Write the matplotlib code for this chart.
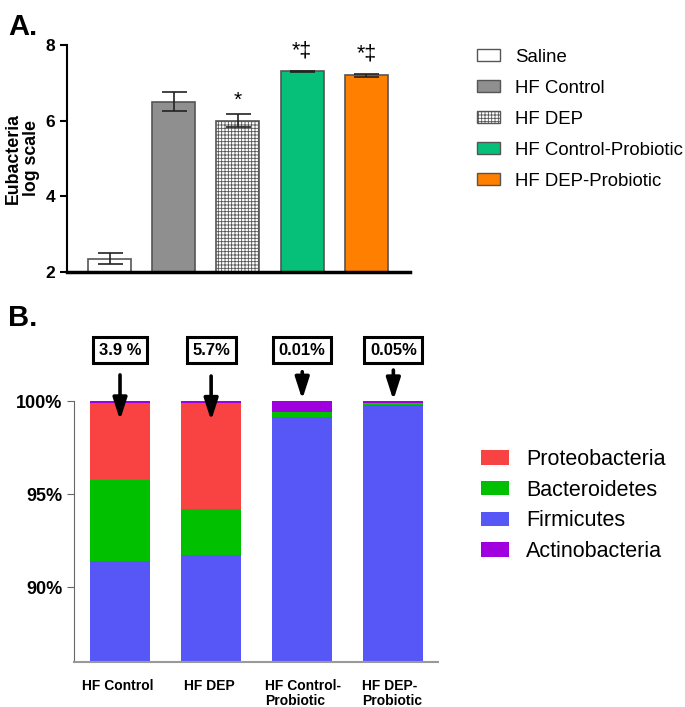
import matplotlib
matplotlib.use("Agg")
import matplotlib.pyplot as plt
from matplotlib.patches import Patch
from matplotlib.transforms import ScaledTranslation

plt.rcParams['font.family'] = ['Liberation Sans', 'DejaVu Sans']
plt.rcParams['hatch.linewidth'] = 0.6

# panel A data
groups_a = ['Saline', 'HF Control', 'HF DEP', 'HF Control-Probiotic', 'HF DEP-Probiotic']
eub_mean = [2.35, 6.5, 6.0, 7.3, 7.2]
eub_err = [0.15, 0.25, 0.18, 0.02, 0.04]
sig_marks = ['', '', '*', '*\u2021', '*\u2021']
colors_a = ['white', '#8f8f8f', 'white', '#06bf78', '#ff7f00']
hatches_a = [None, None, '+++++', None, None]

# panel B data
groups_b = ['HF Control', 'HF DEP', 'HF Control-\nProbiotic', 'HF DEP-\nProbiotic']
phyla = ['Proteobacteria', 'Bacteroidetes', 'Firmicutes', 'Actinobacteria']
firmicutes = [91.43, 91.74, 99.16, 99.78]
bacteroidetes = [4.32, 2.49, 0.24, 0.08]
proteobacteria = [4.13, 5.67, 0.01, 0.05]
actinobacteria = [0.12, 0.10, 0.59, 0.09]
box_labels = ['3.9 %', '5.7%', '0.01%', '0.05%']
colors_b = {'Proteobacteria': '#f94242', 'Bacteroidetes': '#00c000',
            'Firmicutes': '#5757f8', 'Actinobacteria': '#a000e0'}

fig = plt.figure(figsize=(6.85, 7.07), dpi=100)
W, H = 685, 707

def ax_rect(l, r, t, b):
    return [l / W, 1 - b / H, (r - l) / W, (b - t) / H]

# ---------- A ----------
axa = fig.add_axes(ax_rect(67, 410, 45, 272))
xa = range(len(groups_a))
for i in xa:
    axa.bar(i, eub_mean[i] - 2, bottom=2, width=0.67, color=colors_a[i],
            edgecolor='#555555', linewidth=1.2, hatch=hatches_a[i], zorder=2)
    axa.errorbar(i, eub_mean[i], yerr=eub_err[i], color='#222222', capsize=9,
                 elinewidth=1.2, capthick=1.2, zorder=3)
    if sig_marks[i] == '*':
        axa.text(i, eub_mean[i] + eub_err[i] + 0.1, sig_marks[i], ha='center',
                 va='bottom', fontsize=15)
    elif sig_marks[i]:
        axa.text(i, eub_mean[i] + eub_err[i] + 0.25, sig_marks[i], ha='center',
                 va='bottom', fontsize=15.5)
axa.set_xlim(-0.664, 4.68)
axa.set_ylim(2, 8)
axa.set_yticks([2, 4, 6, 8])
axa.set_xticks([])
for s in ['top', 'right']:
    axa.spines[s].set_visible(False)
axa.spines['left'].set_linewidth(1.5)
axa.spines['bottom'].set_linewidth(2.5)
axa.tick_params(axis='y', length=5, width=1.5, labelsize=12.5)
for lb in axa.get_yticklabels():
    lb.set_fontweight('bold')
axa.set_ylabel('Eubacteria\nlog scale', fontsize=12.8, fontweight='bold', labelpad=4,
               linespacing=1.05)

handles_a = [Patch(facecolor=colors_a[i], edgecolor='#555555', hatch=hatches_a[i],
                   label=groups_a[i]) for i in xa]
fig.legend(handles=handles_a, loc='upper left', bbox_to_anchor=(477 / W, 1 - 49 / H),
           frameon=False, fontsize=13.4, handlelength=1.25, handleheight=0.62,
           labelspacing=0.75, handletextpad=0.8, borderpad=0, borderaxespad=0)

fig.text(8 / W, 1 - 27 / H, 'A.', fontsize=21, fontweight='bold', va='center')

# ---------- B ----------
axb = fig.add_axes(ax_rect(74, 438, 401, 662))
xb = range(len(groups_b))
bottom = [0.0] * 4
stack = [('Firmicutes', firmicutes), ('Bacteroidetes', bacteroidetes),
         ('Proteobacteria', proteobacteria), ('Actinobacteria', actinobacteria)]
for name, vals in stack:
    axb.bar(list(xb), vals, bottom=bottom, width=0.66, color=colors_b[name],
            edgecolor='none', zorder=2)
    bottom = [b + v for b, v in zip(bottom, vals)]
axb.set_xlim(-0.505, 3.49)
axb.set_ylim(86, 100)
axb.set_yticks([90, 95, 100])
axb.set_yticklabels(['90%', '95%', '100%'])
axb.set_xticks(list(xb))
axb.set_xticklabels(groups_b, fontsize=10, fontweight='bold', ha='left',
                    multialignment='left', linespacing=1.15)
for s in ['top', 'right']:
    axb.spines[s].set_visible(False)
axb.spines['left'].set_color('#666666')
axb.spines['bottom'].set_color('#999999')
axb.spines['bottom'].set_linewidth(1.5)
axb.tick_params(axis='y', length=5, color='#666666', labelsize=13)
axb.tick_params(axis='x', length=0, pad=12)
for lb in axb.get_yticklabels():
    lb.set_fontweight('bold')
# left-aligned labels, nudged into place
shifts_px = [-38, -27, -37, -31]
for lb, dx in zip(axb.get_xticklabels(), shifts_px):
    lb.set_transform(lb.get_transform() + ScaledTranslation(dx / 100, 0, fig.dpi_scale_trans))

arrow_tail = [101.4, 101.34, 101.57, 101.66]
arrow_tip = [98.98, 98.95, 100.09, 100.05]
for i in xb:
    axb.annotate('', xy=(i, arrow_tip[i]), xytext=(i, arrow_tail[i]),
                 arrowprops=dict(arrowstyle='-|>,head_width=0.42,head_length=1.3',
                                 color='black', lw=2.6, shrinkA=0, shrinkB=0),
                 annotation_clip=False)
    axb.text(i, 102.73, box_labels[i], ha='center', va='center', fontsize=12,
             fontweight='bold',
             bbox=dict(boxstyle='square,pad=0.33', facecolor='white',
                       edgecolor='black', linewidth=2.2), clip_on=False)

handles_b = [Patch(facecolor=colors_b[p], edgecolor='none', label=p) for p in phyla]
fig.legend(handles=handles_b, loc='upper left', bbox_to_anchor=(481 / W, 1 - 449 / H),
           frameon=False, fontsize=15.5, handlelength=1.3, handleheight=0.65,
           labelspacing=0.45, handletextpad=0.8, borderpad=0, borderaxespad=0)

fig.text(8 / W, 1 - 318 / H, 'B.', fontsize=21, fontweight='bold', va='center')

fig.savefig('out.png', dpi=100)
